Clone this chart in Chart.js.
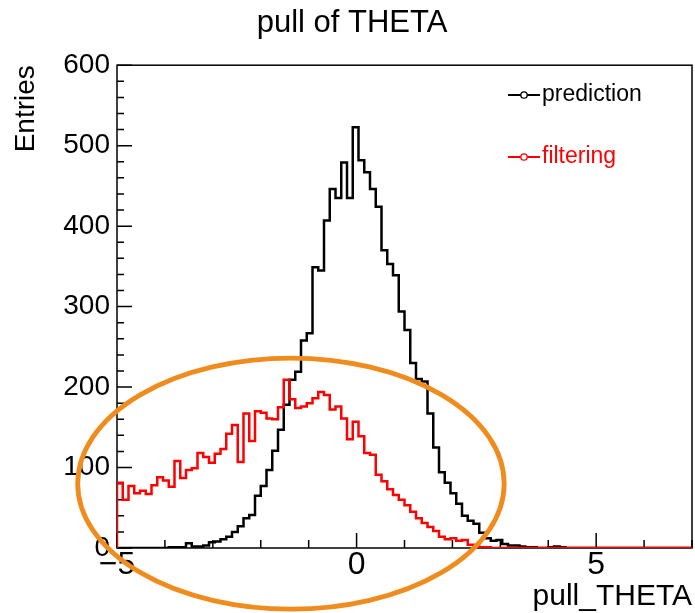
<!DOCTYPE html>
<html><head><meta charset="utf-8">
<script src="https://cdn.jsdelivr.net/npm/chart.js@4.4.1/dist/chart.umd.min.js"></script>
<style>html,body{margin:0;padding:0;background:#fff;}canvas{display:block;}</style>
</head><body>
<canvas id="c" width="695" height="613"></canvas>
<script>
const FONT = "'Liberation Sans', Arial, Helvetica, sans-serif";

// Histogram binning (x axis categories): 100 bins from -5 to 7
const binStart = -5;
const binWidth = 0.12;

// Bin contents
const prediction = [
  0,0,0,0,0,0,0,0,0,1,
  1,1,6,2,2,3,7,8,11,14,
  20,27,37,41,65,77,97,121,147,178,
  209,219,258,267,349,345,407,446,435,479,
  435,523,482,467,446,424,370,353,339,294,
  271,230,210,207,167,125,94,81,68,55,
  40,34,30,19,12,9,10,5,3,3,
  2,1,1,0,0,1,2,1,0,0,
  0,0,0,0,0,0,0,0,0,0,
  0,0,0,0,0,0,0,0,0,0
];
const filtering = [
  81,60,77,68,71,67,78,88,84,76,
  108,87,97,99,118,113,106,117,123,142,
  153,107,167,133,170,168,161,160,175,209,
  185,174,176,180,186,194,190,172,176,161,
  135,157,139,118,116,91,83,73,66,60,
  53,45,37,31,26,21,14,11,12,9,
  10,4,2,1,1,0,0,0,0,0,
  0,0,0,0,0,0,0,0,0,0,
  0,0,0,0,0,0,0,0,0,0,
  0,0,0,0,0,0,0,0,0,0
];
const seriesNames = ['prediction', 'filtering'];
const seriesColors = ['#000000', '#ff0000'];
const xRange = [-5, 7];
const yRange = [0, 600];
const xLabelStep = 5;
const yLabelStep = 100;

// Hand-drawn orange ellipse annotation (in data units)
const ellipseNote = {cx: -1.37, cy: 80, rx: 4.45, ry: 156};

function histPoints(values) {
  const pts = [{x: binStart, y: 0}];
  values.forEach((v, i) => pts.push({x: binStart + i * binWidth, y: v}));
  const end = binStart + values.length * binWidth;
  pts.push({x: end, y: values[values.length - 1]});
  pts.push({x: end, y: 0});
  return pts;
}

const fmt = v => (v < 0 ? '\u2212' + Math.abs(v) : String(v));

const rootPlugin = {
  id: 'rootStyle',
  beforeDraw(chart) {
    const ctx = chart.ctx;
    ctx.save();
    ctx.fillStyle = '#fff';
    ctx.fillRect(0, 0, chart.width, chart.height);
    ctx.restore();
  },
  beforeDatasetsDraw(chart) {
    const {ctx, chartArea: a, scales: {x, y}} = chart;
    ctx.save();
    ctx.strokeStyle = '#000';
    ctx.lineWidth = 1.5;
    ctx.strokeRect(a.left, a.top, a.right - a.left, a.bottom - a.top);
    ctx.beginPath();
    for (let v = x.min; v <= x.max + 1e-9; v += 1) {
      const px = x.getPixelForValue(v);
      const major = Math.abs(Math.round(v) % xLabelStep) === 0;
      ctx.moveTo(px, a.bottom);
      ctx.lineTo(px, a.bottom - (major ? 15 : 8));
    }
    for (let v = y.min; v <= y.max + 1e-9; v += 20) {
      const py = y.getPixelForValue(v);
      const major = Math.round(v) % yLabelStep === 0;
      ctx.moveTo(a.left, py);
      ctx.lineTo(a.left + (major ? 15 : 7), py);
    }
    ctx.stroke();
    ctx.restore();
  },
  afterDraw(chart) {
    const {ctx, scales: {x, y}} = chart;
    ctx.save();
    // legend
    const lx = 508, lineLen = 32, rows = [95, 157];
    chart.data.datasets.forEach((ds, i) => {
      const yy = rows[i];
      ctx.strokeStyle = ds.borderColor;
      ctx.lineWidth = 2;
      ctx.beginPath();
      ctx.moveTo(lx, yy); ctx.lineTo(lx + lineLen, yy);
      ctx.stroke();
      ctx.beginPath();
      ctx.arc(lx + lineLen / 2, yy, 3.2, 0, Math.PI * 2);
      ctx.fillStyle = '#fff';
      ctx.fill();
      ctx.lineWidth = 1.3;
      ctx.stroke();
      ctx.fillStyle = ds.borderColor;
      ctx.font = '23px ' + FONT;
      ctx.textBaseline = 'middle';
      ctx.textAlign = 'left';
      ctx.fillText(ds.label, lx + lineLen + 2, yy);
    });
    // ellipse annotation
    const cx = x.getPixelForValue(ellipseNote.cx);
    const cy = y.getPixelForValue(ellipseNote.cy);
    const rx = x.getPixelForValue(ellipseNote.cx + ellipseNote.rx) - cx;
    const ry = cy - y.getPixelForValue(ellipseNote.cy + ellipseNote.ry);
    ctx.beginPath();
    ctx.ellipse(cx, cy, rx, ry, 0, 0, Math.PI * 2);
    ctx.strokeStyle = '#f08c1e';
    ctx.lineWidth = 4.8;
    ctx.stroke();
    ctx.restore();
  }
};

Chart.defaults.font.family = FONT;
Chart.defaults.color = '#000';

new Chart(document.getElementById('c'), {
  type: 'line',
  data: {
    datasets: [
      {label: seriesNames[0], data: histPoints(prediction), borderColor: seriesColors[0],
       borderWidth: 2.5, stepped: 'before', pointRadius: 0, fill: false, order: 1},
      {label: seriesNames[1], data: histPoints(filtering), borderColor: seriesColors[1],
       borderWidth: 2.5, stepped: 'before', pointRadius: 0, fill: false, order: 0}
    ]
  },
  options: {
    responsive: false,
    animation: false,
    devicePixelRatio: 1,
    layout: {padding: {left: 12, right: 3, top: 0, bottom: 0}},
    plugins: {
      legend: {display: false},
      tooltip: {enabled: false},
      title: {
        display: true, text: 'pull of THETA',
        font: {size: 31, weight: 'normal', lineHeight: 1.2},
        padding: {top: 5, bottom: 23}, color: '#000'
      }
    },
    scales: {
      x: {
        type: 'linear', min: xRange[0], max: xRange[1],
        grid: {display: false, drawTicks: false},
        border: {display: false},
        ticks: {stepSize: xLabelStep, includeBounds: false, autoSkip: false, maxRotation: 0,
                padding: 1, font: {size: 32, lineHeight: 1}, callback: v => fmt(v)},
        title: {display: true, text: 'pull_THETA', align: 'end',
                font: {size: 30, lineHeight: 1}, padding: {top: 0, bottom: 1}},
        afterFit: s => { s.height = 65; }
      },
      y: {
        type: 'linear', min: yRange[0], max: yRange[1],
        grid: {display: false, drawTicks: false},
        border: {display: false},
        ticks: {stepSize: yLabelStep, autoSkip: false, padding: 7,
                font: {size: 28, lineHeight: 1}},
        title: {display: true, text: 'Entries', align: 'end',
                font: {size: 28, lineHeight: 1}, padding: 0},
        afterFit: s => { s.width = 105; }
      }
    }
  },
  plugins: [rootPlugin]
});
</script>
</body></html>
